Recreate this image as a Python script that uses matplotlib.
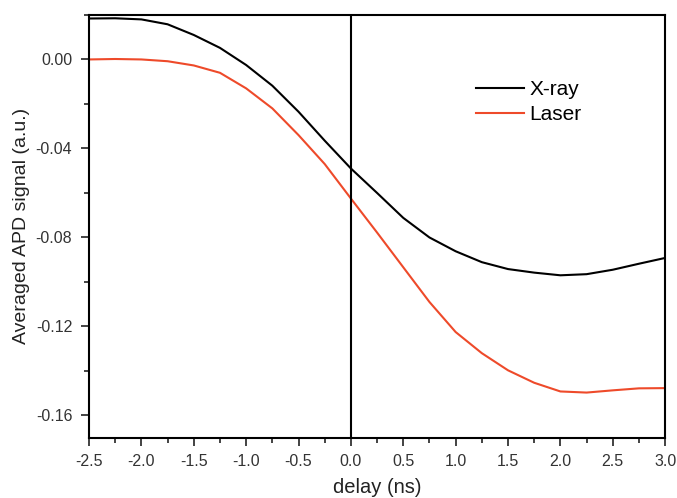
import matplotlib
matplotlib.use("Agg")
import matplotlib.pyplot as plt
from matplotlib.ticker import MultipleLocator, FormatStrFormatter

# delay values (ns) and averaged APD signal
delay = [-2.5, -2.25, -2.0, -1.75, -1.5, -1.25, -1.0, -0.75, -0.5, -0.25,
         0.0, 0.25, 0.5, 0.75, 1.0, 1.25, 1.5, 1.75, 2.0, 2.25, 2.5, 2.75, 3.0]
xray = [0.0184, 0.0185, 0.0180, 0.0158, 0.0110, 0.0052, -0.0025, -0.0118,
        -0.0235, -0.0365, -0.0490, -0.0600, -0.0712, -0.0800, -0.0862,
        -0.0911, -0.0942, -0.0958, -0.0970, -0.0965, -0.0945, -0.0918, -0.0892]
laser = [0.0, 0.0002, 0.0, -0.0008, -0.0027, -0.0060, -0.0130, -0.0220,
         -0.0340, -0.0470, -0.0625, -0.0778, -0.0934, -0.1090, -0.1225,
         -0.1320, -0.1397, -0.1453, -0.1492, -0.1497, -0.1487, -0.1478, -0.1477]

plt.rcParams['font.family'] = ['Liberation Sans', 'DejaVu Sans']

fig = plt.figure(figsize=(6.77, 4.98), dpi=100)
ax = fig.add_axes([0.1315, 0.121, 0.851, 0.849])

ax.plot(delay, xray, color='black', linewidth=1.5, label='X-ray')
ax.plot(delay, laser, color='#ee4a2a', linewidth=1.5, label='Laser')
ax.axvline(0.0, color='black', linewidth=1.5)

ax.set_xlim(-2.5, 3.0)
ax.set_ylim(-0.17, 0.02)
ax.xaxis.set_major_locator(MultipleLocator(0.5))
ax.xaxis.set_minor_locator(MultipleLocator(0.25))
ax.yaxis.set_major_locator(MultipleLocator(0.04))
ax.yaxis.set_minor_locator(MultipleLocator(0.02))
ax.xaxis.set_major_formatter(FormatStrFormatter('%.1f'))
ax.yaxis.set_major_formatter(FormatStrFormatter('%.2f'))

ax.tick_params(which='both', direction='out', top=False, right=False,
               width=1.2, labelsize=11.5, colors='#222222', labelcolor='#333333')
ax.tick_params(which='major', length=6)
ax.tick_params(which='minor', length=3.5)
ax.tick_params(axis='x', which='major', pad=5.5)
ax.tick_params(axis='y', which='major', pad=6)
for s in ax.spines.values():
    s.set_linewidth(1.5)

ax.set_xlabel('delay (ns)', fontsize=14.5, color='#222222', labelpad=7)
ax.set_ylabel('Averaged APD signal (a.u.)', fontsize=14, color='#222222', labelpad=4)

ax.legend(loc='upper left', bbox_to_anchor=(0.64, 0.89), frameon=False,
          fontsize=15, handlelength=2.3, handletextpad=0.25, labelspacing=0.3)

fig.savefig('out.png', dpi=100)
